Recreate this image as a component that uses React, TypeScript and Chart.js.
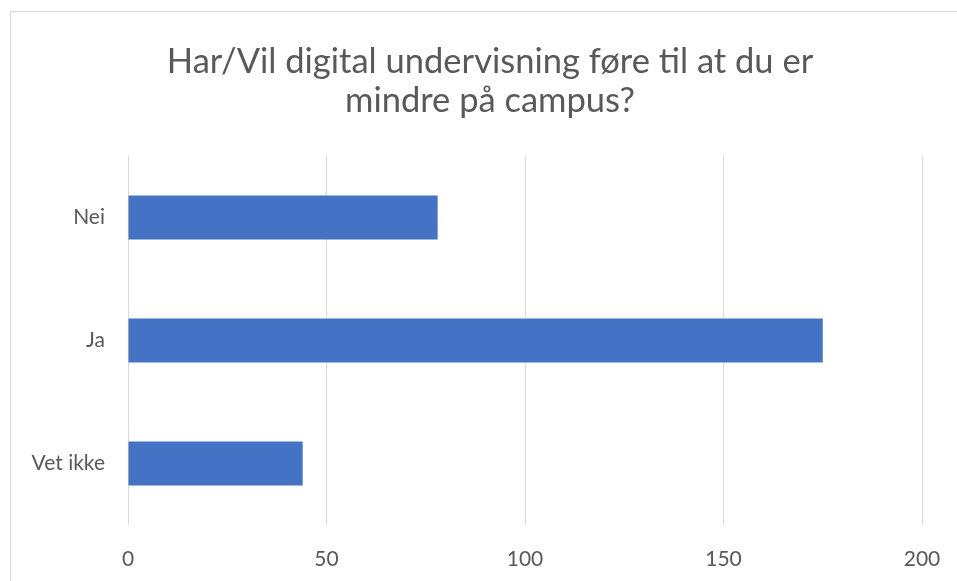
import React, { useEffect, useRef } from "react";
import { Chart, registerables } from "chart.js";

Chart.register(...registerables);

const categories = ["Nei", "Ja", "Vet ikke"];
const values = [78, 175, 44];
const titleLines = ["Har/Vil digital undervisning føre til at du er", "mindre på campus?"];
const xMin = 0;
const xMax = 200;
const xStep = 50;

const FONT = "Lato, 'Open Sans', sans-serif";
const TEXT = "#595959";
const GRID = "#d9d9d9";
const BAR = "#4472C4";

export default function App() {
  const ref = useRef<HTMLCanvasElement | null>(null);

  useEffect(() => {
    if (!ref.current) return;
    const chart = new Chart(ref.current, {
      type: "bar",
      data: {
        labels: categories,
        datasets: [
          {
            data: values,
            backgroundColor: BAR,
            categoryPercentage: 1,
            barPercentage: 0.357,
          },
        ],
      },
      options: {
        indexAxis: "y",
        animation: false,
        responsive: false,
        maintainAspectRatio: false,
        layout: { padding: { left: 58, right: 35, top: 0, bottom: 0 } },
        plugins: {
          legend: { display: false },
          tooltip: { enabled: false },
          title: {
            display: true,
            text: titleLines,
            color: TEXT,
            font: { family: FONT, size: 34.5, weight: "normal", lineHeight: 1.13 },
            padding: { top: 42, bottom: 36 },
          },
        },
        scales: {
          x: {
            min: xMin,
            max: xMax,
            ticks: {
              stepSize: xStep,
              color: TEXT,
              font: { family: FONT, size: 21 },
              padding: 22,
            },
            grid: { color: GRID, lineWidth: 1, drawTicks: false },
            border: { display: false },
            afterFit: (s: any) => {
              s.height = 56;
              s.paddingLeft = 0;
              s.paddingRight = 0;
            },
          },
          y: {
            ticks: {
              color: TEXT,
              font: { family: FONT, size: 21 },
              padding: 23,
            },
            grid: { display: false, drawTicks: false },
            border: { display: false },
            afterFit: (s: any) => {
              s.width = 70;
              s.paddingTop = 0;
              s.paddingBottom = 0;
              // let the category labels extend into the left padding
              s._computeLabelArea = () => undefined;
            },
          },
        },
      },
    });
    return () => chart.destroy();
  }, []);

  return (
    <div style={{ position: "fixed", left: 0, top: 0, width: 957, height: 581, background: "#fff", overflow: "hidden" }}>
      <div
        style={{
          position: "absolute",
          left: 10,
          top: 11,
          width: 1000,
          height: 700,
          border: "1px solid #d9d9d9",
        }}
      />
      <canvas ref={ref} width={957} height={581} style={{ position: "absolute", left: 0, top: 0 }} />
    </div>
  );
}
